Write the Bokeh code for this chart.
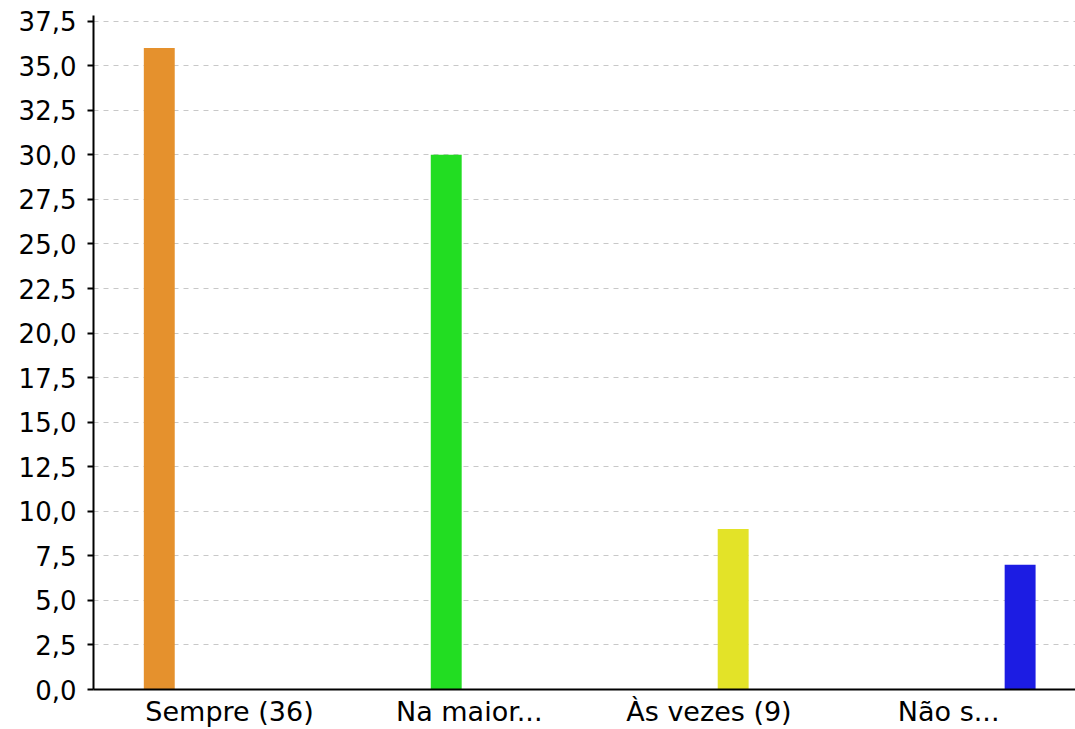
from bokeh.plotting import figure
from bokeh.models import Range1d, FixedTicker, CustomJSTickFormatter, ColumnDataSource
from bokeh.embed import file_html
from bokeh.resources import INLINE

# ---- data ----
categories = ["Sempre (36)", "Na maior...", "Às vezes (9)", "Não s..."]
values = [36, 30, 9, 7]
colors = ["#E5912D", "#22DD22", "#E3E328", "#1C1CE3"]
y_ticks = [0, 2.5, 5, 7.5, 10, 12.5, 15, 17.5, 20, 22.5, 25, 27.5, 30, 32.5, 35, 37.5]

# ---- layout helpers (category index -> position) ----
BAR_OFFSET = -0.293
BAR_STEP = 1.197
BAR_WIDTH = 0.129
label_pos = list(range(len(categories)))
bar_x = [BAR_OFFSET + i * BAR_STEP for i in range(len(categories))]

src = ColumnDataSource(dict(x=bar_x, top=values, color=colors, cat=categories))

FONT = "DejaVu Sans"

p = figure(width=1075, height=729, output_backend="svg", toolbar_location=None,
           x_range=Range1d(-0.5674, 3.529), y_range=Range1d(0, 37.82),
           min_border_left=93, min_border_right=0, min_border_top=15, min_border_bottom=39)
p.outline_line_color = None
p.background_fill_color = "white"
p.border_fill_color = "white"

p.vbar(x="x", top="top", bottom=0, width=BAR_WIDTH, fill_color="color",
       line_color=None, source=src)

# y axis
ya = p.yaxis[0]
ya.ticker = FixedTicker(ticks=y_ticks)
ya.formatter = CustomJSTickFormatter(code="return tick.toFixed(1).replace('.', ',');")
ya.axis_line_color = "black"
ya.axis_line_width = 2
ya.major_tick_line_color = "black"
ya.major_tick_line_width = 2
ya.major_tick_out = 6
ya.major_tick_in = 0
ya.minor_tick_line_color = None
ya.major_label_standoff = 11
ya.major_label_text_font = FONT
ya.major_label_text_font_size = "26px"
ya.major_label_text_color = "black"

# x axis
xa = p.xaxis[0]
xa.ticker = FixedTicker(ticks=label_pos)
xa.major_label_overrides = {i: c for i, c in zip(label_pos, categories)}
xa.axis_line_color = "black"
xa.axis_line_width = 2
xa.major_tick_line_color = None
xa.major_tick_out = 0
xa.major_tick_in = 0
xa.minor_tick_line_color = None
xa.major_label_standoff = 6
xa.major_label_text_font = FONT
xa.major_label_text_font_size = "27px"
xa.major_label_text_color = "black"

# grid
p.xgrid.grid_line_color = None
p.ygrid.ticker = FixedTicker(ticks=y_ticks)
p.ygrid.grid_line_color = "#C8C8C8"
p.ygrid.grid_line_dash = "5 5"
p.ygrid.grid_line_width = 1

open("out.html", "w").write(file_html(p, INLINE))
